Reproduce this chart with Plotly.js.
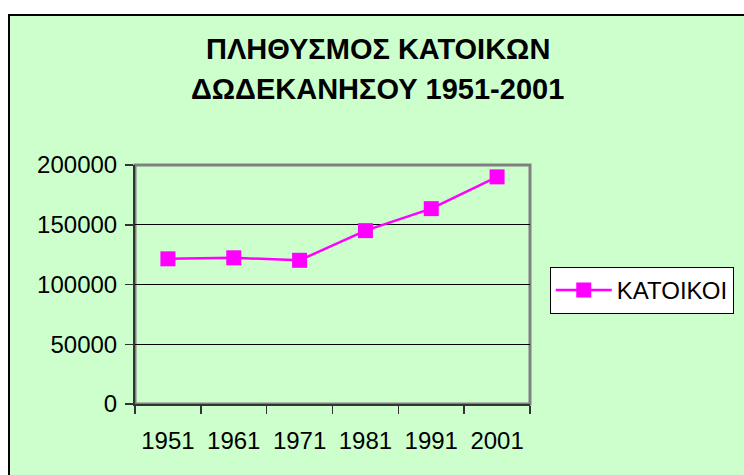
<!DOCTYPE html>
<html>
<head>
<meta charset="utf-8">
<script src="https://cdn.plot.ly/plotly-3.0.1.min.js"></script>
<style>
  html, body { margin: 0; padding: 0; background: #ffffff; overflow: hidden; }
  #frame { position: absolute; left: 8px; top: 14px; width: 800px; height: 520px;
           background: #CCFFCC; border-left: 2px solid #000; border-top: 2px solid #000; }
  #chart { position: absolute; left: 0; top: 0; width: 744px; height: 475px; }
</style>
</head>
<body>
<div id="frame"></div>
<div id="chart"></div>
<script>
const years = ["1951", "1961", "1971", "1981", "1991", "2001"];
const residents = [121480, 122346, 120258, 145071, 163476, 190071];
const seriesName = "ΚΑΤΟΙΚΟΙ";
const titleLine1 = "ΠΛΗΘΥΣΜΟΣ ΚΑΤΟΙΚΩΝ";
const titleLine2 = "ΔΩΔΕΚΑΝΗΣΟΥ 1951-2001";
const yTicks = [0, 50000, 100000, 150000, 200000];

const FONT = "Liberation Sans, Arial, sans-serif";

const trace = {
  x: years,
  y: residents,
  type: "scatter",
  mode: "lines+markers",
  name: seriesName,
  line: { color: "#FF00FF", width: 2.5 },
  marker: { symbol: "square", size: 15, color: "#FF00FF", line: { width: 0 } },
  showlegend: true
};

const layout = {
  width: 744,
  height: 475,
  margin: { l: 135, r: 214, t: 165, b: 71, pad: 0, autoexpand: false },
  paper_bgcolor: "rgba(0,0,0,0)",
  plot_bgcolor: "#CCFFCC",
  font: { family: FONT, color: "#000000", size: 22 },
  showlegend: true,
  xaxis: {
    type: "category",
    range: [-0.5, 5.5],
    tickson: "boundaries",
    ticks: "outside",
    ticklen: 8,
    tickwidth: 1.5,
    tickcolor: "#333333",
    showline: true,
    linecolor: "#333333",
    linewidth: 2,
    showgrid: false,
    zeroline: false,
    ticklabelstandoff: 14,
    tickfont: { family: FONT, size: 24, color: "#000000" },
    fixedrange: true
  },
  yaxis: {
    range: [0, 200000],
    tickmode: "array",
    tickvals: yTicks,
    ticktext: yTicks.map(String),
    ticks: "outside",
    ticklen: 8,
    tickwidth: 1.5,
    tickcolor: "#333333",
    showline: true,
    linecolor: "#333333",
    linewidth: 2,
    showgrid: true,
    gridcolor: "#000000",
    gridwidth: 1,
    zeroline: false,
    ticklabelstandoff: 3,
    tickfont: { family: FONT, size: 24, color: "#000000" },
    fixedrange: true
  },
  shapes: [{
    type: "rect", xref: "paper", yref: "paper", x0: 0, x1: 1, y0: 0, y1: 1,
    line: { color: "#808080", width: 3 }, fillcolor: "rgba(0,0,0,0)", layer: "below"
  }],
  legend: {
    x: 1.05, xanchor: "left",
    y: 0.574, yanchor: "top",
    bgcolor: "#FFFFFF",
    bordercolor: "#000000",
    borderwidth: 1,
    itemwidth: 56,
    font: { family: FONT, size: 24, color: "#000000" }
  },
  annotations: [
    { text: "<b>" + titleLine1 + "</b>", xref: "paper", yref: "paper", x: 0.615, y: 1.485,
      xanchor: "center", yanchor: "middle", showarrow: false,
      font: { family: FONT, size: 29, color: "#000000" } },
    { text: "<b>" + titleLine2 + "</b>", xref: "paper", yref: "paper", x: 0.615, y: 1.318,
      xanchor: "center", yanchor: "middle", showarrow: false,
      font: { family: FONT, size: 29, color: "#000000" } }
  ]
};

Plotly.newPlot("chart", [trace], layout, { staticPlot: true, displayModeBar: false });
</script>
</body>
</html>
